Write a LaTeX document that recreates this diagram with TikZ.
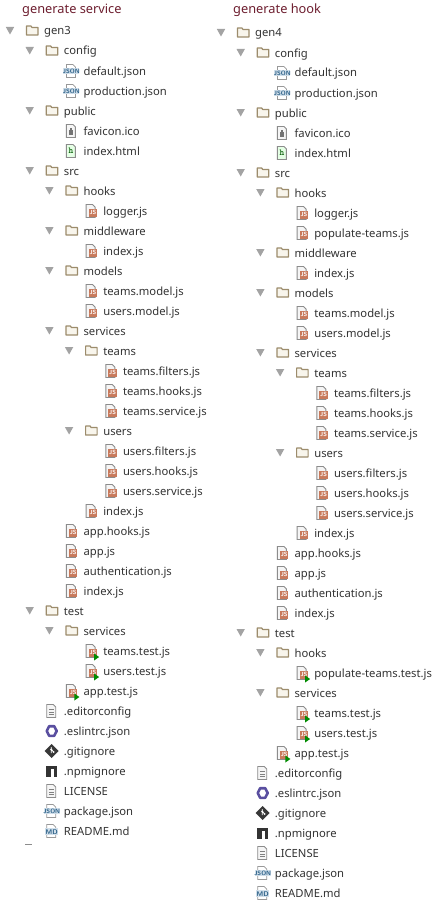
\documentclass[tikz,border=0pt]{standalone}
\usepackage{fontspec}
\setmainfont{Noto Sans}
\definecolor{txt}{HTML}{333333}
\definecolor{tan}{HTML}{9C8C6C}
\definecolor{tan2}{HTML}{F8F5EC}
\definecolor{jsred}{HTML}{C87A5C}
\definecolor{jsblue}{HTML}{2F6F9E}
\definecolor{titlered}{HTML}{6E1F30}
\definecolor{eslintc}{HTML}{5A4FA0}
\tikzset{
 label text/.style={anchor=base west,inner sep=0pt,text=txt,font=\fontsize{11.25}{13}\selectfont},
 title text/.style={anchor=base west,inner sep=0pt,text=titlered,font=\fontsize{12.8}{14}\selectfont},
 tri/.style={fill=black!36,draw=none},
 sheet/.style={draw=black!45,fill=black!4,line width=.9pt},
 pics/folder/.style={code={
  \draw[draw=tan,fill=tan2,line width=1.2pt,line join=round] (-5.5,4) -- (-5.5,-5) -- (-1,-5) -- (0,-3.5) -- (6,-3.5) -- (6,4) -- cycle;
 }},
 pics/filejs/.style={code={
  \draw[sheet] (-5,6.5) -- (-5,-6.5) -- (1.5,-6.5) -- (4,-4) -- (4,6.5) -- cycle;
  \fill[jsred] (-2.5,-2) rectangle (6,5.5);
  \node[inner sep=0pt,text=white,font=\fontsize{6}{6}\sffamily\bfseries] at (1.8,1.8) {JS};
 }},
 pics/filetest/.style={code={
  \pic {filejs};
  \fill[green!55!black] (3,2.5) -- (8,6) -- (3,9.5) -- cycle;
 }},
 pics/filejson/.style={code={
  \draw[draw=black!40,fill=white,line width=.7pt] (-5,6.5) -- (-5,-6.5) -- (1.5,-6.5) -- (4,-4) -- (4,6.5) -- cycle;
  \fill[jsblue!22] (-8,-2.8) rectangle (8,3.4);
  \node[inner sep=0pt,text=jsblue!85!black,font=\fontsize{6.2}{6}\sffamily\bfseries] at (0,.3) {JSON};
 }},
 pics/filemd/.style={code={
  \draw[draw=black!40,fill=white,line width=.7pt] (-5,6.5) -- (-5,-6.5) -- (1.5,-6.5) -- (4,-4) -- (4,6.5) -- cycle;
  \fill[jsblue!22] (-6.5,-2.6) rectangle (6.5,4);
  \node[inner sep=0pt,text=jsblue!85!black,font=\fontsize{6.8}{6}\sffamily\bfseries] at (0,.7) {MD};
 }},
 pics/fileico/.style={code={
  \draw[sheet] (-5,6.5) -- (-5,-6.5) -- (1.5,-6.5) -- (4,-4) -- (4,6.5) -- cycle;
  \fill[black!55] (-2.5,-1) rectangle (1.5,4);
  \fill[black!55] (-1.4,-3) rectangle (.4,-1);
 }},
 pics/filehtml/.style={code={
  \draw[draw=black!45,fill=green!10,line width=.9pt] (-5,6.5) -- (-5,-6.5) -- (1.5,-6.5) -- (4,-4) -- (4,6.5) -- cycle;
  \node[inner sep=0pt,text=green!35!black,font=\fontsize{9}{9}\ttfamily\bfseries] at (-.5,0) {h};
 }},
 pics/filetext/.style={code={
  \draw[sheet] (-5,6.5) -- (-5,-6.5) -- (1.5,-6.5) -- (4,-4) -- (4,6.5) -- cycle;
  \draw[black!50,line width=.8pt] (-2.8,-1.5) -- (1.8,-1.5) (-2.8,1) -- (1.8,1) (-2.8,3.5) -- (1.8,3.5);
 }},
 pics/fileeslint/.style={code={
  \draw[draw=eslintc,line width=2.6pt,line join=round] (-5,0) -- (-2.5,-4.8) -- (2.5,-4.8) -- (5,0) -- (2.5,4.8) -- (-2.5,4.8) -- cycle;
 }},
 pics/filegit/.style={code={
  \fill[black!78] (0,-7) -- (7,0) -- (0,7) -- (-7,0) -- cycle;
  \fill[white] (-.5,-1.5) circle (1.1) (2,1) circle (1);
  \draw[white,line width=.9pt] (-.5,-4) -- (-.5,2) (-.5,-1.5) -- (2,1);
 }},
 pics/filenpm/.style={code={
  \fill[black!80] (-5.5,-5.5) rectangle (5.5,5.5);
  \fill[white] (-.8,-2) rectangle (2.2,5.5);
 }},
}
% #1 name, #2 x offset, #3 row y, #4 level, #5 text
\newcommand{\dirrow}[5]{%
 \pgfmathsetmacro{\tx}{#2+44+19.7*#4}%
 \path[tri] (\tx-38.2,#3-4) -- (\tx-29.8,#3-4) -- (\tx-34,#3+3.5) -- cycle;
 \pic at (\tx-12,#3) {folder};
 \node[label text] (#1) at (\tx,#3+4) {#5};}
% #1 name, #2 x offset, #3 row y, #4 level, #5 icon, #6 text
\newcommand{\filerow}[6]{%
 \pgfmathsetmacro{\tx}{#2+44+19.7*#4}%
 \pic at (\tx-12,#3) {#5};
 \node[label text] (#1) at (\tx,#3+4) {#6};}
\begin{document}
\begin{tikzpicture}[x=1pt,y=-1pt]
\useasboundingbox (0,0) rectangle (444,907);
\fill[white] (0,0) rectangle (444,907);
\node[title text] (t1) at (22,13.5) {generate service};
\node[title text] (t2) at (233,13.5) {generate hook};
\coordinate (dashA) at (25,844.5);
\coordinate (dashB) at (32,844.5);
\draw[black!45,line width=.8pt] (dashA) -- (dashB);
% left column
\dirrow{a0}{0}{31}{0}{gen3}
\dirrow{a1}{0}{51}{1}{config}
\filerow{a2}{0}{71}{2}{filejson}{default.json}
\filerow{a3}{0}{91}{2}{filejson}{production.json}
\dirrow{a4}{0}{111}{1}{public}
\filerow{a5}{0}{131}{2}{fileico}{favicon.ico}
\filerow{a6}{0}{151}{2}{filehtml}{index.html}
\dirrow{a7}{0}{171}{1}{src}
\dirrow{a8}{0}{191}{2}{hooks}
\filerow{a9}{0}{211}{3}{filejs}{logger.js}
\dirrow{a10}{0}{231}{2}{middleware}
\filerow{a11}{0}{251}{3}{filejs}{index.js}
\dirrow{a12}{0}{271}{2}{models}
\filerow{a13}{0}{291}{3}{filejs}{teams.model.js}
\filerow{a14}{0}{311}{3}{filejs}{users.model.js}
\dirrow{a15}{0}{331}{2}{services}
\dirrow{a16}{0}{351}{3}{teams}
\filerow{a17}{0}{371}{4}{filejs}{teams.filters.js}
\filerow{a18}{0}{391}{4}{filejs}{teams.hooks.js}
\filerow{a19}{0}{411}{4}{filejs}{teams.service.js}
\dirrow{a20}{0}{431}{3}{users}
\filerow{a21}{0}{451}{4}{filejs}{users.filters.js}
\filerow{a22}{0}{471}{4}{filejs}{users.hooks.js}
\filerow{a23}{0}{491}{4}{filejs}{users.service.js}
\filerow{a24}{0}{511}{3}{filejs}{index.js}
\filerow{a25}{0}{531}{2}{filejs}{app.hooks.js}
\filerow{a26}{0}{551}{2}{filejs}{app.js}
\filerow{a27}{0}{571}{2}{filejs}{authentication.js}
\filerow{a28}{0}{591}{2}{filejs}{index.js}
\dirrow{a29}{0}{611}{1}{test}
\dirrow{a30}{0}{631}{2}{services}
\filerow{a31}{0}{651}{3}{filetest}{teams.test.js}
\filerow{a32}{0}{671}{3}{filetest}{users.test.js}
\filerow{a33}{0}{691}{2}{filetest}{app.test.js}
\filerow{a34}{0}{711}{1}{filetext}{.editorconfig}
\filerow{a35}{0}{731}{1}{fileeslint}{.eslintrc.json}
\filerow{a36}{0}{751}{1}{filegit}{.gitignore}
\filerow{a37}{0}{771}{1}{filenpm}{.npmignore}
\filerow{a38}{0}{791}{1}{filetext}{LICENSE}
\filerow{a39}{0}{811}{1}{filejson}{package.json}
\filerow{a40}{0}{831}{1}{filemd}{README.md}
% right column
\dirrow{b0}{211}{33}{0}{gen4}
\dirrow{b1}{211}{53}{1}{config}
\filerow{b2}{211}{73}{2}{filejson}{default.json}
\filerow{b3}{211}{93}{2}{filejson}{production.json}
\dirrow{b4}{211}{113}{1}{public}
\filerow{b5}{211}{133}{2}{fileico}{favicon.ico}
\filerow{b6}{211}{153}{2}{filehtml}{index.html}
\dirrow{b7}{211}{173}{1}{src}
\dirrow{b8}{211}{193}{2}{hooks}
\filerow{b9}{211}{213}{3}{filejs}{logger.js}
\filerow{b10}{211}{233}{3}{filejs}{populate-teams.js}
\dirrow{b11}{211}{253}{2}{middleware}
\filerow{b12}{211}{273}{3}{filejs}{index.js}
\dirrow{b13}{211}{293}{2}{models}
\filerow{b14}{211}{313}{3}{filejs}{teams.model.js}
\filerow{b15}{211}{333}{3}{filejs}{users.model.js}
\dirrow{b16}{211}{353}{2}{services}
\dirrow{b17}{211}{373}{3}{teams}
\filerow{b18}{211}{393}{4}{filejs}{teams.filters.js}
\filerow{b19}{211}{413}{4}{filejs}{teams.hooks.js}
\filerow{b20}{211}{433}{4}{filejs}{teams.service.js}
\dirrow{b21}{211}{453}{3}{users}
\filerow{b22}{211}{473}{4}{filejs}{users.filters.js}
\filerow{b23}{211}{493}{4}{filejs}{users.hooks.js}
\filerow{b24}{211}{513}{4}{filejs}{users.service.js}
\filerow{b25}{211}{533}{3}{filejs}{index.js}
\filerow{b26}{211}{553}{2}{filejs}{app.hooks.js}
\filerow{b27}{211}{573}{2}{filejs}{app.js}
\filerow{b28}{211}{593}{2}{filejs}{authentication.js}
\filerow{b29}{211}{613}{2}{filejs}{index.js}
\dirrow{b30}{211}{633}{1}{test}
\dirrow{b31}{211}{653}{2}{hooks}
\filerow{b32}{211}{673}{3}{filetest}{populate-teams.test.js}
\dirrow{b33}{211}{693}{2}{services}
\filerow{b34}{211}{713}{3}{filetest}{teams.test.js}
\filerow{b35}{211}{733}{3}{filetest}{users.test.js}
\filerow{b36}{211}{753}{2}{filetest}{app.test.js}
\filerow{b37}{211}{773}{1}{filetext}{.editorconfig}
\filerow{b38}{211}{793}{1}{fileeslint}{.eslintrc.json}
\filerow{b39}{211}{813}{1}{filegit}{.gitignore}
\filerow{b40}{211}{833}{1}{filenpm}{.npmignore}
\filerow{b41}{211}{853}{1}{filetext}{LICENSE}
\filerow{b42}{211}{873}{1}{filejson}{package.json}
\filerow{b43}{211}{893}{1}{filemd}{README.md}
\end{tikzpicture}
\end{document}
